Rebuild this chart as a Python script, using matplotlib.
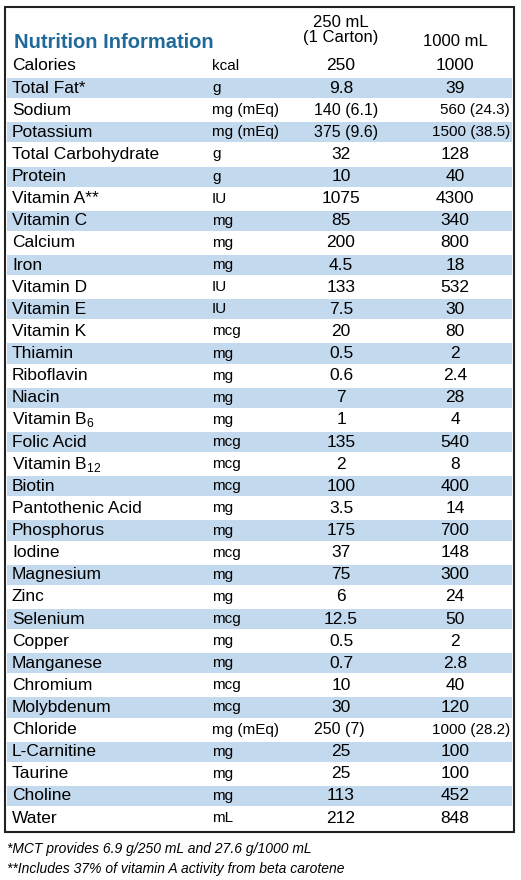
import matplotlib
matplotlib.use("Agg")
import matplotlib.pyplot as plt
from matplotlib.patches import Rectangle

names = ["Calories","Total Fat*","Sodium","Potassium","Total Carbohydrate","Protein","Vitamin A**",
 "Vitamin C","Calcium","Iron","Vitamin D","Vitamin E","Vitamin K","Thiamin","Riboflavin","Niacin",
 "Vitamin B$_{6}$","Folic Acid","Vitamin B$_{12}$","Biotin","Pantothenic Acid","Phosphorus","Iodine",
 "Magnesium","Zinc","Selenium","Copper","Manganese","Chromium","Molybdenum","Chloride","L-Carnitine",
 "Taurine","Choline","Water"]
units = ["kcal","g","mg (mEq)","mg (mEq)","g","g","IU","mg","mg","mg","IU","IU","mcg","mg","mg","mg",
 "mg","mcg","mcg","mcg","mg","mg","mcg","mg","mg","mcg","mg","mg","mcg","mcg","mg (mEq)","mg","mg","mg","mL"]
col250 = ["250","9.8","140 (6.1)","375 (9.6)","32","10","1075","85","200","4.5","133","7.5","20","0.5","0.6",
 "7","1","135","2","100","3.5","175","37","75","6","12.5","0.5","0.7","10","30","250 (7)","25","25","113","212"]
col1000 = ["1000","39","560 (24.3)","1500 (38.5)","128","40","4300","340","800","18","532","30","80","2","2.4",
 "28","4","540","8","400","14","700","148","300","24","50","2","2.8","40","120","1000 (28.2)","100","100","452","848"]

FONT = ["Liberation Sans", "DejaVu Sans"]
plt.rcParams['font.family'] = FONT
plt.rcParams['mathtext.fontset'] = 'custom'
plt.rcParams['mathtext.rm'] = 'Liberation Sans'

fig = plt.figure(figsize=(5.21, 8.80), dpi=100)
ax = fig.add_axes([0, 0, 1, 1])
ax.set_xlim(0, 521); ax.set_ylim(880, 0); ax.axis('off')

ax.add_patch(Rectangle((5, 7), 509, 825, fill=False, ec='#222222', lw=1.5))
y0, dy = 66, 22.12
fs = 12.5
for i, (n, u, a, b) in enumerate(zip(names, units, col250, col1000)):
    y = y0 + i * dy
    if i % 2 == 1:
        ax.add_patch(Rectangle((7, y - dy/2 + 1), 505, dy - 2, color='#c3d9ee', lw=0))
    ax.text(12, y, n, fontsize=fs, va='center')
    ax.text(212, y, u, fontsize=fs - 1.5, va='center')
    if '(' in a:
        ax.text(314, y, a, fontsize=fs - 1, va='center')
    else:
        ax.text(341, y, a, fontsize=fs, va='center', ha='center')
    if '(' in b:
        ax.text(510, y, b, fontsize=fs - 1.5, va='center', ha='right')
    else:
        ax.text(455, y, b, fontsize=fs, va='center', ha='center')

ax.text(14, 42, "Nutrition Information", fontsize=14.5, weight='bold', color='#1f6a9a',
        va='center')
ax.text(341, 30, "250 mL\n(1 Carton)", fontsize=fs - 0.5, ha='center', va='center', linespacing=1.0)
ax.text(455, 42, "1000 mL", fontsize=fs - 0.5, ha='center', va='center')

ax.text(7, 849, "*MCT provides 6.9 g/250 mL and 27.6 g/1000 mL", fontsize=10, style='italic', va='center')
ax.text(7, 869, "**Includes 37% of vitamin A activity from beta carotene", fontsize=10, style='italic', va='center')

fig.savefig("out.png", dpi=100)
